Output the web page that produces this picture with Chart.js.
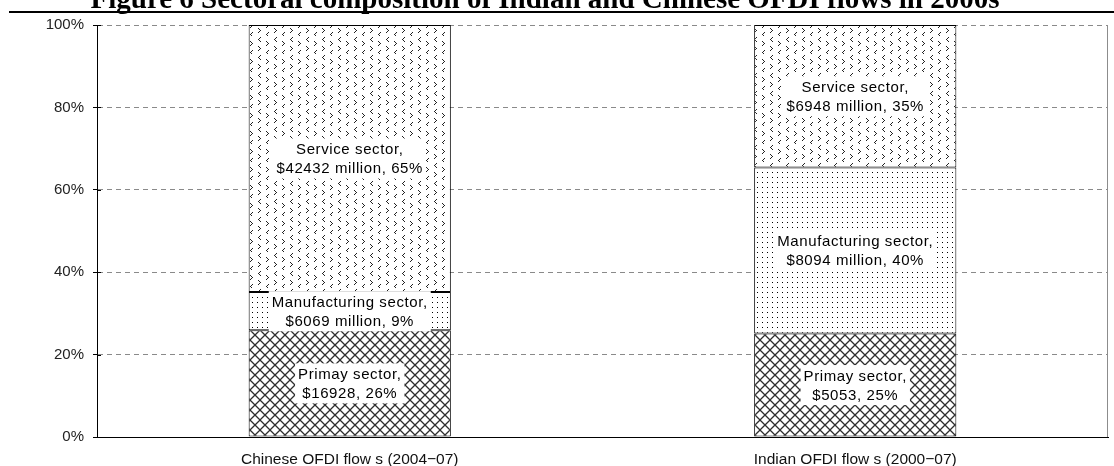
<!DOCTYPE html>
<html>
<head>
<meta charset="utf-8">
<script src="https://cdn.jsdelivr.net/npm/chart.js@4/dist/chart.umd.min.js"></script>
<style>
  html, body { margin: 0; padding: 0; background: #fff; }
  #wrap { width: 1114px; height: 466px; position: relative; }
</style>
</head>
<body>
<div id="wrap"><canvas id="chart"></canvas></div>
<script>
// --- data ---
const titleText = 'Figure 6 Sectoral composition of Indian and Chinese OFDI flows in 2000s';
const categories = ['Chinese OFDI flow s (2004\u221207)', 'Indian OFDI flow s (2000\u221207)'];
const sectorNames = ['Primay sector,', 'Manufacturing sector,', 'Service sector,'];

// shares in percent (stacked to 100)
const primaryShare = [25.9, 25.1];
const manufacturingShare = [9.3, 40.3];
const serviceShare = [64.8, 34.6];

// second line of each data label
const primaryText = ['$16928, 26%', '$5053, 25%'];
const manufacturingText = ['$6069 million, 9%', '$8094 million, 40%'];
const serviceText = ['$42432 million, 65%', '$6948 million, 35%'];

const yTicks = [0, 20, 40, 60, 80, 100];

// --- fill patterns (Excel-style) ---
function makeTile(w, h, draw) {
    const c = document.createElement('canvas');
    c.width = w; c.height = h;
    const g = c.getContext('2d');
    g.fillStyle = '#fff';
    g.fillRect(0, 0, w, h);
    draw(g);
    return c;
}

function crossPattern(ctx) {
    const tile = makeTile(10, 10, g => {
        g.strokeStyle = '#2e2e2e';
        g.lineWidth = 1.3;
        g.beginPath();
        g.moveTo(-1, -1); g.lineTo(11, 11);
        g.moveTo(11, -1); g.lineTo(-1, 11);
        g.stroke();
    });
    return ctx.createPattern(tile, 'repeat');
}

function dotPattern(ctx) {
    const tile = makeTile(5, 5, g => {
        g.fillStyle = '#000';
        g.fillRect(2, 2, 1, 1);
    });
    return ctx.createPattern(tile, 'repeat');
}

function chevronPattern(ctx) {
    const tile = makeTile(16, 18, g => {
        g.fillStyle = '#222';
        const lt = (x, y) => { g.fillRect(x + 2, y, 1, 1); g.fillRect(x + 1, y + 1, 1, 1); g.fillRect(x, y + 2, 1, 1); g.fillRect(x + 1, y + 3, 1, 1); g.fillRect(x + 2, y + 4, 1, 1); };
        const gt = (x, y) => { g.fillRect(x, y, 1, 1); g.fillRect(x + 1, y + 1, 1, 1); g.fillRect(x + 2, y + 2, 1, 1); g.fillRect(x + 1, y + 3, 1, 1); g.fillRect(x, y + 4, 1, 1); };
        lt(2, 1);
        gt(10, 5);
        gt(2, 10);
        lt(10, 14);
    });
    return ctx.createPattern(tile, 'repeat');
}

const canvas = document.getElementById('chart');
const ctx = canvas.getContext('2d');

// title clipped at the top + rule underneath
const titlePlugin = {
    id: 'titleRule',
    afterDraw(chart) {
        const c = chart.ctx;
        c.save();
        c.fillStyle = '#000';
        c.font = 'bold 29px "Liberation Serif", "Times New Roman", serif';
        c.textAlign = 'center';
        c.textBaseline = 'alphabetic';
        c.fillText(titleText, 545, 8);
        c.strokeStyle = '#000';
        c.lineWidth = 2;
        c.beginPath();
        c.moveTo(9, 12);
        c.lineTo(1114, 12);
        c.stroke();
        c.restore();
    }
};

// right frame line and inward tick marks on the value axis
const framePlugin = {
    id: 'frame',
    afterDatasetsDraw(chart) {
        const c = chart.ctx;
        const area = chart.chartArea;
        const y = chart.scales.y;
        c.save();
        c.strokeStyle = '#8c8c8c';
        c.lineWidth = 1;
        c.beginPath();
        c.moveTo(area.right - 0.5, area.top);
        c.lineTo(area.right - 0.5, area.bottom);
        c.stroke();
        c.strokeStyle = '#000';
        c.beginPath();
        yTicks.forEach(v => {
            const py = Math.round(y.getPixelForValue(v)) + 0.5;
            c.moveTo(area.left, py);
            c.lineTo(area.left + 4, py);
        });
        c.stroke();
        c.restore();
    }
};

// two-line labels on white boxes in the middle of each segment
const labelPlugin = {
    id: 'segLabels',
    afterDatasetsDraw(chart) {
        const c = chart.ctx;
        const texts = [primaryText, manufacturingText, serviceText];
        c.save();
        c.font = '15px "Liberation Sans", Arial, sans-serif';
        c.letterSpacing = '0.6px';
        c.textAlign = 'center';
        c.textBaseline = 'middle';
        chart.data.datasets.forEach((ds, i) => {
            const meta = chart.getDatasetMeta(i);
            meta.data.forEach((bar, j) => {
                const lines = [sectorNames[i], texts[i][j]];
                const cy = (bar.y + bar.base) / 2;
                const w = Math.max(...lines.map(l => c.measureText(l).width)) + 6;
                const lh = 19;
                const h = lh * lines.length + 2;
                c.fillStyle = '#fff';
                c.fillRect(bar.x - w / 2, cy - h / 2, w, h);
                c.fillStyle = '#000';
                lines.forEach((l, k) => {
                    c.fillText(l, bar.x, cy - lh / 2 + k * lh + 1);
                });
            });
        });
        c.restore();
    }
};

const barStyle = {
    borderColor: '#000',
    borderWidth: 1,
    borderSkipped: false,
    categoryPercentage: 0.8,
    barPercentage: 0.5
};

new Chart(ctx, {
    type: 'bar',
    data: {
        labels: categories,
        datasets: [
            Object.assign({ label: 'Primary sector', data: primaryShare, backgroundColor: crossPattern(ctx) }, barStyle),
            Object.assign({ label: 'Manufacturing sector', data: manufacturingShare, backgroundColor: dotPattern(ctx) }, barStyle),
            Object.assign({ label: 'Service sector', data: serviceShare, backgroundColor: chevronPattern(ctx) }, barStyle)
        ]
    },
    options: {
        responsive: true,
        maintainAspectRatio: false,
        animation: false,
        devicePixelRatio: 1,
        layout: { padding: { top: 25, right: 6, left: 0, bottom: 0 } },
        plugins: {
            legend: { display: false },
            tooltip: { enabled: false }
        },
        scales: {
            x: {
                stacked: true,
                grid: { display: false, drawTicks: false },
                border: { display: true, color: '#000', width: 1 },
                ticks: {
                    color: '#111',
                    font: { family: '"Liberation Sans", Arial, sans-serif', size: 15.5 },
                    padding: 13,
                    maxRotation: 0
                },
                afterFit(scale) { scale.height = 29; }
            },
            y: {
                stacked: true,
                min: 0,
                max: 100,
                afterBuildTicks(scale) { scale.ticks = yTicks.map(v => ({ value: v })); },
                grid: {
                    color: '#8a8a8a',
                    lineWidth: 1,
                    drawTicks: true,
                    tickLength: 4,
                    tickColor: '#000',
                    tickBorderDash: []
                },
                border: { display: true, color: '#000', width: 1, dash: [5, 4] },
                ticks: {
                    color: '#222',
                    font: { family: '"Liberation Sans", Arial, sans-serif', size: 15 },
                    padding: 9,
                    callback: v => v + '%'
                },
                afterFit(scale) { scale.width = 97; }
            }
        }
    },
    plugins: [titlePlugin, framePlugin, labelPlugin]
});
</script>
</body>
</html>
